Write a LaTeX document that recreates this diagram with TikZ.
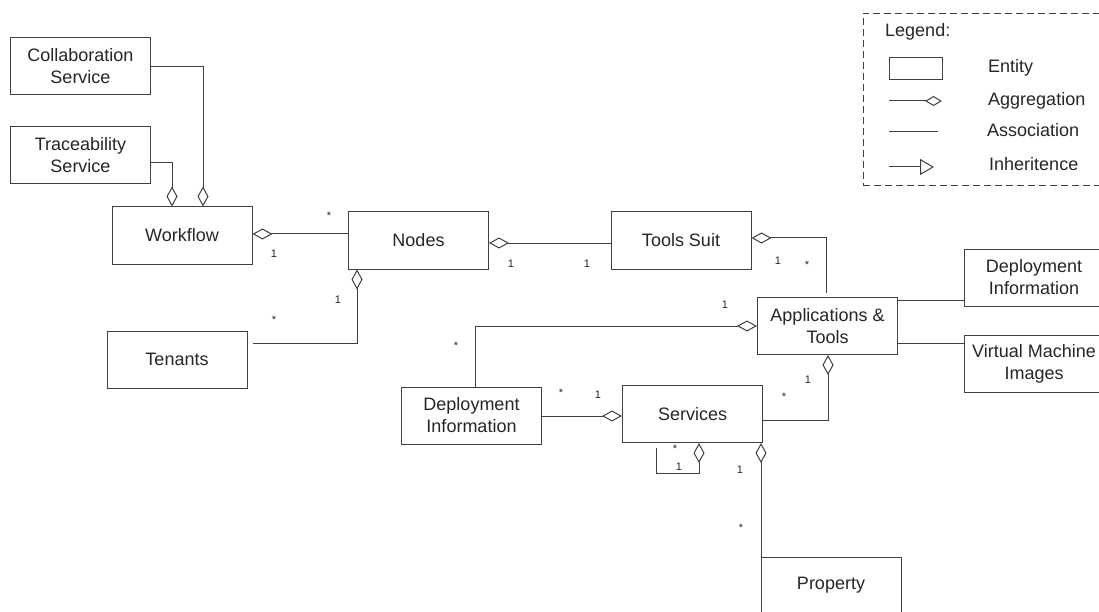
\documentclass[tikz,border=0pt]{standalone}
\usepackage{fontspec}
\setmainfont{Liberation Sans}
\usetikzlibrary{arrows.meta}
\definecolor{linec}{gray}{0.25}
\definecolor{textc}{gray}{0.15}
\begin{document}
\begin{tikzpicture}[x=1pt,y=-1pt,
  ent/.style={draw=linec, line width=1pt, fill=white, minimum width=140pt,
    minimum height=57pt, inner sep=0pt, align=center, text=textc,
    font=\fontsize{18}{22}\selectfont},
  conn/.style={draw=linec, line width=1pt},
  agg/.style={conn, {Diamond[open, length=20pt, width=11pt]}-},
  mult/.style={inner sep=0pt, anchor=base, text=textc, font=\fontsize{11}{13}\selectfont},
  legtext/.style={inner sep=0pt, anchor=west, text=textc, font=\fontsize{18}{22}\selectfont},
]
\useasboundingbox (0,0) rectangle (1099,612);

% entities
\node[ent] (collab)   at (80.5,66.5)  {Collaboration\\Service};
\node[ent] (trace)    at (80.5,155)   {Traceability\\Service};
\node[ent] (workflow) at (182,235.5)  {Workflow};
\node[ent] (nodes)    at (418.5,240.5){Nodes};
\node[ent] (tools)    at (681,240.5)  {Tools Suit};
\node[ent] (tenants)  at (177,359.5)  {Tenants};
\node[ent] (apps)     at (827.5,326)  {Applications \&\\Tools};
\node[ent] (depR)     at (1034,277.5) {Deployment\\Information};
\node[ent] (vm)       at (1034,363.5) {Virtual Machine\\Images};
\node[ent] (depL)     at (471.5,415.5){Deployment\\Information};
\node[ent] (services) at (692.5,414)  {Services};
\node[ent] (property) at (831,585.5)  {Property};

% aggregations and associations
\draw[agg] (workflow.north -| 203,0) |- (collab.east |- 0,67);
\draw[agg] (workflow.north -| 172,0) |- (trace.east |- 0,163);
\draw[agg] (workflow.east |- 0,234) -- (nodes.west |- 0,234);
\draw[agg] (nodes.east |- 0,243) -- (tools.west |- 0,243);
\draw[agg, shorten >=5pt] (nodes.south -| 357,0) |- (tenants.east |- 0,343);
\draw[agg, shorten >=4pt] (tools.east |- 0,238) -| (apps.north -| 826,0);
\draw[agg] (apps.west |- 0,326) -| (depL.north -| 475,0);
\draw[conn] (apps.east |- 0,300) -- (depR.west |- 0,300);
\draw[conn] (apps.east |- 0,343) -- (vm.west |- 0,343);
\draw[agg] (apps.south -| 828,0) |- (services.east |- 0,420);
\draw[agg] (services.west |- 0,416) -- (depL.east |- 0,416);
\coordinate (loopA) at (699,473);
\coordinate (loopB) at (656,448);
\draw[agg] (services.south -| 699,0) -- (loopA) -| (loopB);
\draw[agg] (services.south -| 761,0) -- (property.north -| 761,0);

% multiplicities
\node[mult] (m1)  at (329,219) {*};
\node[mult] (m2)  at (274,258) {1};
\node[mult] (m3)  at (511,267) {1};
\node[mult] (m4)  at (587,267) {1};
\node[mult] (m5)  at (778,264) {1};
\node[mult] (m6)  at (807,268) {*};
\node[mult] (m7)  at (338,303) {1};
\node[mult] (m8)  at (274,323) {*};
\node[mult] (m9)  at (725,308) {1};
\node[mult] (m10) at (456,349) {*};
\node[mult] (m11) at (808,383) {1};
\node[mult] (m12) at (784,400) {*};
\node[mult] (m13) at (561,396) {*};
\node[mult] (m14) at (598,398) {1};
\node[mult] (m15) at (675,452) {*};
\node[mult] (m16) at (679,470) {1};
\node[mult] (m17) at (740,473) {1};
\node[mult] (m18) at (741,531) {*};

% legend
\node[draw=linec, line width=0.9pt, dash pattern=on 7pt off 4pt, minimum width=247pt,
  minimum height=172pt, inner sep=0pt] (legend) at (986.5,99) {};
\node[legtext] (legTitle) at (885,32) {Legend:};
\node[draw=linec, line width=1pt, minimum width=53pt, minimum height=22pt,
  inner sep=0pt] (legEntity) at (915.5,69) {};
\coordinate (aggA) at (889,101);
\coordinate (aggB) at (942,101);
\coordinate (assA) at (889,132);
\coordinate (assB) at (938,132);
\coordinate (inhA) at (889,167);
\coordinate (inhB) at (934,167);
\draw[conn, -{Diamond[open, length=17pt, width=10pt]}] (aggA) -- (aggB);
\draw[conn] (assA) -- (assB);
\draw[conn, -{Triangle[open, length=14pt, width=16pt]}] (inhA) -- (inhB);
\node[legtext] (tEntity) at (988,68)  {Entity};
\node[legtext] (tAgg)    at (988,101) {Aggregation};
\node[legtext] (tAss)    at (987,130) {Association};
\node[legtext] (tInh)    at (989,164) {Inheritence};
\end{tikzpicture}
\end{document}
